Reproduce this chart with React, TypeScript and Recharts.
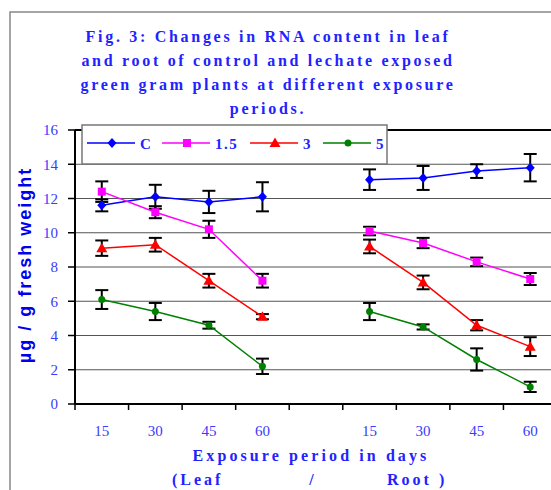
import React from "react";
import {
  LineChart,
  Line,
  XAxis,
  YAxis,
  CartesianGrid,
  ErrorBar,
  ReferenceLine,
} from "recharts";

// categories: leaf 15..60, gap, root 15..60
const categories = ["15", "30", "45", "60", "", "15", "30", "45", "60"];

const cVals = [11.6, 12.1, 11.8, 12.1, null, 13.1, 13.2, 13.6, 13.8];
const cErr = [0.35, 0.7, 0.65, 0.85, null, 0.6, 0.7, 0.4, 0.8];

const p15Vals = [12.4, 11.2, 10.2, 7.2, null, 10.1, 9.4, 8.3, 7.3];
const p15Err = [0.6, 0.35, 0.5, 0.4, null, 0.25, 0.3, 0.25, 0.35];

const p3Vals = [9.1, 9.3, 7.2, 5.1, null, 9.2, 7.1, 4.6, 3.35];
const p3Err = [0.45, 0.4, 0.4, 0.15, null, 0.4, 0.4, 0.3, 0.55];

const p5Vals = [6.1, 5.4, 4.6, 2.2, null, 5.4, 4.5, 2.6, 1.0];
const p5Err = [0.55, 0.5, 0.2, 0.45, null, 0.5, 0.15, 0.65, 0.3];

const yTicks = [0, 2, 4, 6, 8, 10, 12, 14, 16];

const titleLines = [
  "Fig. 3: Changes in RNA content in leaf",
  "and root of control and lechate exposed",
  "green gram plants at different exposure",
  "periods.",
];

const series = [
  { key: "c", err: "cErr", name: "C", color: "#0000ff", shape: "diamond" },
  { key: "p15", err: "p15Err", name: "1.5", color: "#ff00ff", shape: "square" },
  { key: "p3", err: "p3Err", name: "3", color: "#ff0000", shape: "triangle" },
  { key: "p5", err: "p5Err", name: "5", color: "#008000", shape: "circle" },
];

const data = categories.map((cat, i) => ({
  x: i + 0.5,
  cat,
  c: cVals[i],
  cErr: cErr[i],
  p15: p15Vals[i],
  p15Err: p15Err[i],
  p3: p3Vals[i],
  p3Err: p3Err[i],
  p5: p5Vals[i],
  p5Err: p5Err[i],
}));

// boundaries + mid-points of each category slot
const xTicks: number[] = [];
for (let i = 0; i <= categories.length * 2; i++) xTicks.push(i / 2);

const BLUE = "#2222ff";
const TICK_BLUE = "#3a3aff";

function Marker({ shape, cx, cy, color }: any) {
  if (shape === "diamond")
    return (
      <polygon
        points={`${cx},${cy - 5} ${cx + 4.5},${cy} ${cx},${cy + 5} ${cx - 4.5},${cy}`}
        fill={color}
      />
    );
  if (shape === "square")
    return <rect x={cx - 4} y={cy - 4} width={8} height={8} fill={color} />;
  if (shape === "triangle")
    return (
      <polygon
        points={`${cx},${cy - 5.5} ${cx + 5.5},${cy + 4} ${cx - 5.5},${cy + 4}`}
        fill={color}
      />
    );
  return <circle cx={cx} cy={cy} r={3.5} fill={color} />;
}

const XTick = (props: any) => {
  const { x, y, payload } = props;
  const v = payload.value;
  if (Number.isInteger(v)) {
    return <line x1={x} y1={y} x2={x} y2={y + 6} stroke="#000" strokeWidth={1.5} />;
  }
  return (
    <text
      x={x}
      y={y + 32}
      textAnchor="middle"
      fill={TICK_BLUE}
      fontFamily="Liberation Serif"
      fontSize={15}
    >
      {categories[Math.floor(v)]}
    </text>
  );
};

// legend layout (x start of each item)
const legendX = [87, 162, 250, 323];

export default function App() {
  return (
    <div
      style={{
        position: "absolute",
        left: 0,
        top: 0,
        width: 551,
        height: 490,
        overflow: "hidden",
        background: "#fff",
      }}
    >
      <LineChart
        width={557}
        height={490}
        data={data}
        margin={{ top: 130, right: 0, left: 10, bottom: 0 }}
      >
        <CartesianGrid horizontal vertical={false} stroke="#555" strokeWidth={1.2} />
        <XAxis
          dataKey="x"
          type="number"
          domain={[0, categories.length]}
          ticks={xTicks}
          interval={0}
          height={86}
          tickSize={0}
          tickMargin={0}
          tickLine={false}
          tick={<XTick />}
          axisLine={{ stroke: "#000", strokeWidth: 2 }}
        />
        <YAxis
          domain={[0, 16]}
          ticks={yTicks}
          interval={0}
          width={65}
          tickSize={7}
          tickMargin={10}
          tickLine={{ stroke: "#000", strokeWidth: 1.5 }}
          axisLine={{ stroke: "#000", strokeWidth: 2 }}
          tick={{ fill: TICK_BLUE, fontFamily: "Liberation Serif", fontSize: 15 }}
        />
        <ReferenceLine y={16} stroke="#000" strokeWidth={2} />
        {series.map((s) => (
          <Line
            key={s.key}
            dataKey={s.key}
            stroke={s.color}
            strokeWidth={1.5}
            isAnimationActive={false}
            connectNulls={false}
            activeDot={false}
            dot={(p: any) =>
              p.cy == null || p.value == null ? (
                <g key={`${s.key}-${p.index}`} />
              ) : (
                <g key={`${s.key}-${p.index}`}>
                  <Marker shape={s.shape} cx={p.cx} cy={p.cy} color={s.color} />
                </g>
              )
            }
          >
            <ErrorBar
              dataKey={s.err}
              direction="y"
              width={6.5}
              stroke="#000"
              strokeWidth={2}
            />
          </Line>
        ))}
      </LineChart>

      <svg
        width={551}
        height={490}
        style={{ position: "absolute", left: 0, top: 0, pointerEvents: "none" }}
      >
        {/* frame */}
        <rect x={10} y={12} width={560} height={500} fill="none" stroke="#888" strokeWidth={1.5} />

        {/* title */}
        {titleLines.map((t, i) => (
          <text
            key={i}
            x={268}
            y={42 + i * 24}
            textAnchor="middle"
            fill={BLUE}
            fontFamily="Liberation Serif"
            fontWeight="bold"
            fontSize={16}
            letterSpacing={2.7}
          >
            {t}
          </text>
        ))}

        {/* y axis title */}
        <text
          transform="translate(31, 265) rotate(-90)"
          textAnchor="middle"
          fill="#0000ee"
          fontFamily="Liberation Sans"
          fontWeight="bold"
          fontSize={18}
          letterSpacing={2}
        >
          µg / g fresh weight
        </text>

        {/* x axis titles */}
        <text
          x={311}
          y={461}
          textAnchor="middle"
          fill={BLUE}
          fontFamily="Liberation Serif"
          fontWeight="bold"
          fontSize={16}
          letterSpacing={3.1}
        >
          Exposure period in days
        </text>
        <g fill={BLUE} fontFamily="Liberation Serif" fontWeight="bold" fontSize={16} letterSpacing={3}>
          <text x={172} y={485}>(Leaf</text>
          <text x={313} y={485} textAnchor="middle">/</text>
          <text x={387} y={485}>Root )</text>
        </g>

        {/* legend */}
        <rect x={82} y={125} width={305} height={39} fill="#fff" stroke="#777" strokeWidth={1.5} />
        {series.map((s, i) => {
          const x0 = legendX[i];
          return (
            <g key={s.key}>
              <line x1={x0} y1={143} x2={x0 + 48} y2={143} stroke={s.color} strokeWidth={1.5} />
              <Marker shape={s.shape} cx={x0 + 25} cy={143} color={s.color} />
              <text
                x={x0 + 53}
                y={148.5}
                fill={BLUE}
                fontFamily="Liberation Serif"
                fontWeight="bold"
                fontSize={15}
                letterSpacing={1.5}
              >
                {s.name}
              </text>
            </g>
          );
        })}
      </svg>
    </div>
  );
}
